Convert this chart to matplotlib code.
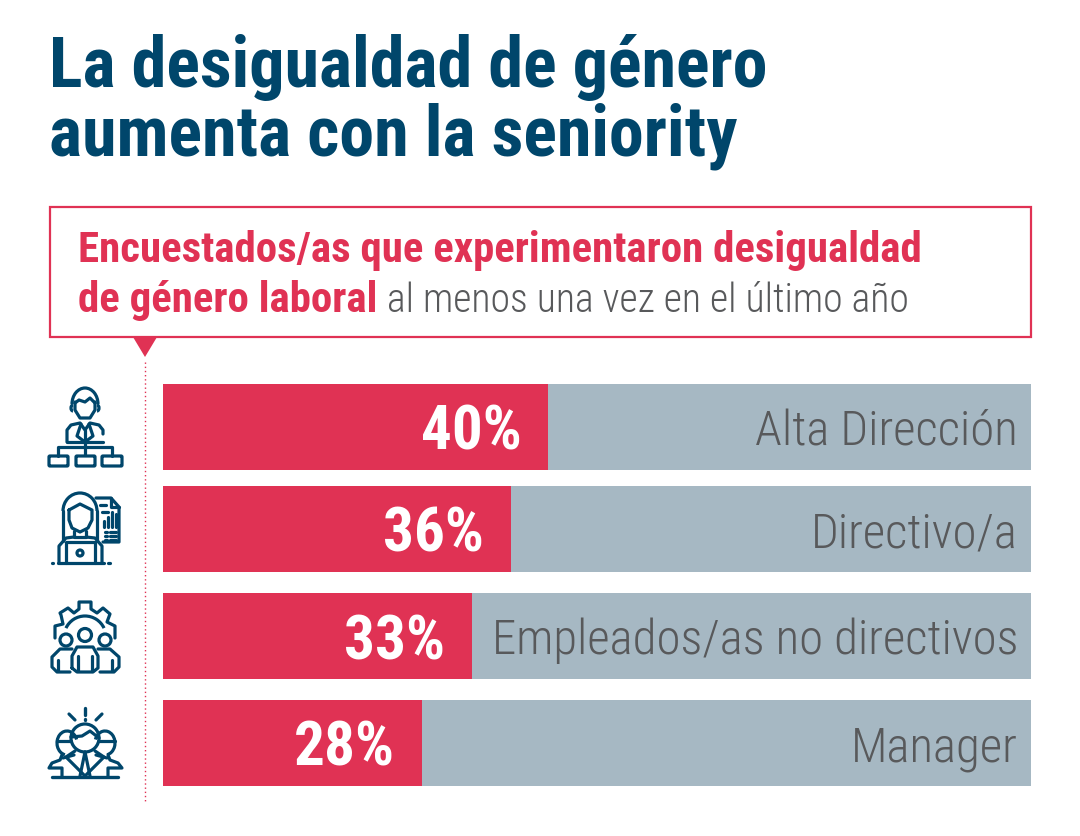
import numpy as np
import matplotlib
matplotlib.use("Agg")
import matplotlib.pyplot as plt
from matplotlib.patches import Polygon, Circle, Rectangle, FancyBboxPatch, Arc

FONT = "Roboto Condensed"
plt.rcParams["font.family"] = [FONT, "DejaVu Sans"]

categories = ["Alta Dirección", "Directivo/a", "Empleados/as no directivos", "Manager"]
percent_labels = ["40%", "36%", "33%", "28%"]
bar_lengths = [44.4, 40.1, 35.6, 29.8]   # drawn share of the grey track
track_total = [100, 100, 100, 100]
row_centres = [427, 529, 636, 743]
BAR_H = 86

RED = "#E03254"; GREY = "#A6B8C3"; NAVY = "#00466B"; TXT = "#58595B"

fig = plt.figure(figsize=(10.8, 8.36), dpi=100, facecolor="white")
W, H = 1080, 836
ov = fig.add_axes([0, 0, 1, 1]); ov.set_xlim(0, W); ov.set_ylim(H, 0); ov.axis("off")

ax = fig.add_axes([163/W, 0, (1031-163)/W, 1])
ax.patch.set_alpha(0)
ax.set_xlim(0, 100); ax.set_ylim(H, 0); ax.axis("off")
ax.barh(row_centres, track_total, height=BAR_H, color=GREY, linewidth=0)
ax.barh(row_centres, bar_lengths, height=BAR_H, color=RED, linewidth=0)
for y, v, p, c in zip(row_centres, bar_lengths, percent_labels, categories):
    ax.annotate(p, (v, y), xytext=(-19.5, 0), textcoords="offset points", ha="right", va="center_baseline",
                color="white", fontsize=44, fontweight="bold")
    ax.annotate(c, (100, y), xytext=(-9.2, 0), textcoords="offset points", ha="right", va="center_baseline",
                color=TXT, fontsize=35.2, fontweight=300)

# title
ov.text(49, 87, "La desigualdad de género", fontsize=50.4, fontweight="bold", color=NAVY, va="baseline")
ov.text(49, 155, "aumenta con la seniority", fontsize=50.4, fontweight="bold", color=NAVY, va="baseline")

# callout
ov.add_patch(Rectangle((49.5, 206.5), 981, 130, fill=False, ec=RED, lw=1.6))
ov.add_patch(Polygon([(133, 337), (157, 337), (145, 357)], fc=RED, ec="none"))
ov.plot([144.5, 144.5], [362, 801], color=RED, lw=1, ls=(0, (1, 2)))
ov.text(78, 262, "Encuestados/as que experimentaron desigualdad", fontsize=30.9, fontweight="bold", color=RED)
ov.text(78, 312, "de género laboral", fontsize=30.9, fontweight="bold", color=RED)
ov.text(387, 312, "al menos una vez en el último año", fontsize=28.6, fontweight=300, color=TXT)

# icons
LW = 2.3
def L(*pts, lw=LW):
    xs, ys = zip(*pts)
    ov.plot(xs, ys, color=NAVY, lw=lw, solid_capstyle="round", solid_joinstyle="round")
def C(x, y, r):
    ov.add_patch(Circle((x, y), r, fill=False, ec=NAVY, lw=LW))
def E(x, y, w, h, a=0, b=360):
    ov.add_patch(Arc((x, y), w, h, theta1=a, theta2=b, ec=NAVY, lw=LW))
def R(x0, y0, x1, y1):
    ov.add_patch(FancyBboxPatch((x0+1, y0+1), x1-x0-2, y1-y0-2, boxstyle="round,pad=1", fill=False, ec=NAVY, lw=LW))

# icon 1: executive over org chart
E(85, 404, 26, 32, 180, 360)
L((75, 402), (75, 410), (80, 418), (90, 418), (95, 410), (95, 402))
L((75, 403), (79, 400), (85, 402), (90, 398), (95, 403))
E(73, 408, 4, 6, 90, 270); E(97, 408, 4, 6, -90, 90)
L((67, 442), (67, 430), (71, 425), (80, 423), (85, 430), (90, 423), (99, 425), (103, 430), (103, 434))
L((67, 442), (103, 442))
L((81, 424), (77, 436), (85, 442), (93, 436), (89, 424))
L((85, 430), (85, 455)); L((58, 456), (58, 447), (112, 447), (112, 456))
R(49, 456, 68, 466); R(76, 456, 95, 466); R(102, 456, 122, 466)

# icon 2: woman with laptop and report
E(80, 511, 34, 36, 180, 360)
L((63, 511), (63, 541)); L((97, 511), (97, 541))
L((69, 510), (80, 504), (92, 510), (92, 520), (88, 528), (80, 532), (72, 528), (69, 520), (69, 510))
L((74, 531), (74, 537), (86, 537), (86, 531))
L((59, 563), (59, 546), (66, 538), (74, 537)); L((86, 537), (95, 538), (102, 546), (102, 563))
L((66, 563), (66, 542), (95, 542), (95, 563)); C(80, 553, 3)
L((52, 563), (53, 563)); L((58, 563), (104, 563)); L((108, 563), (110, 563))
L((96, 498), (111, 498), (119, 507), (119, 542), (103, 542))
L((111, 498), (111, 507), (119, 507))
L((100, 505), (106, 505)); L((102, 512), (108, 512))
for x, top in zip((104, 108, 112, 116), (521, 517, 512, 514)):
    L((x, 527), (x, top))
for y in (532, 536, 540):
    L((105, y), (107, y)); L((110, y), (116, y))

# icon 3: team in front of a gear
teeth = [(55, 638), (55, 626), (63, 624), (61, 615), (60, 613), (68, 608), (74, 613), (79, 609), (79, 602), (91, 602),
         (91, 609), (97, 613), (103, 608), (110, 614), (107, 622), (115, 626), (115, 638)]
L(*teeth)
E(85, 637, 42, 42, 205, 335)
C(85, 635, 6.5); C(66, 640, 6); C(105, 640, 6)
L((72, 668), (72, 656), (77, 647), (93, 647), (98, 656), (98, 668), (93, 672), (77, 672), (72, 668))
L((78, 656), (78, 671)); L((92, 656), (92, 671))
L((72, 649), (60, 649), (52, 657), (52, 667), (57, 672), (70, 672))
L((98, 649), (110, 649), (119, 657), (119, 667), (114, 672), (100, 672))
L((58, 660), (58, 671)); L((112, 660), (112, 671))

# icon 4: group of three managers
L((85, 708), (85, 715), lw=2.4); L((85, 718.5), (85, 719.5), lw=2.4)
L((69, 714), (75, 720)); L((102, 714), (96, 720))
C(85, 738, 14)
L((71, 737), (82, 736), (90, 731), (99, 738))
E(67, 743, 20, 24, 100, 340); E(105, 743, 20, 24, 200, 440)
L((57, 741), (71, 741)); L((99, 741), (115, 741))
L((62, 755), (60, 760), (52, 763), (49, 768), (62, 768), (62, 777))
L((108, 755), (110, 760), (118, 763), (122, 768), (108, 768), (108, 777))
L((52, 777), (118, 777), lw=2.4)
L((75, 751), (66, 757), (85, 776), (104, 757), (95, 751))
L((85, 752), (80, 776)); L((85, 752), (90, 776))
L((74, 755), (63, 758)); L((96, 755), (107, 758))

fig.savefig("out.png", dpi=100)
